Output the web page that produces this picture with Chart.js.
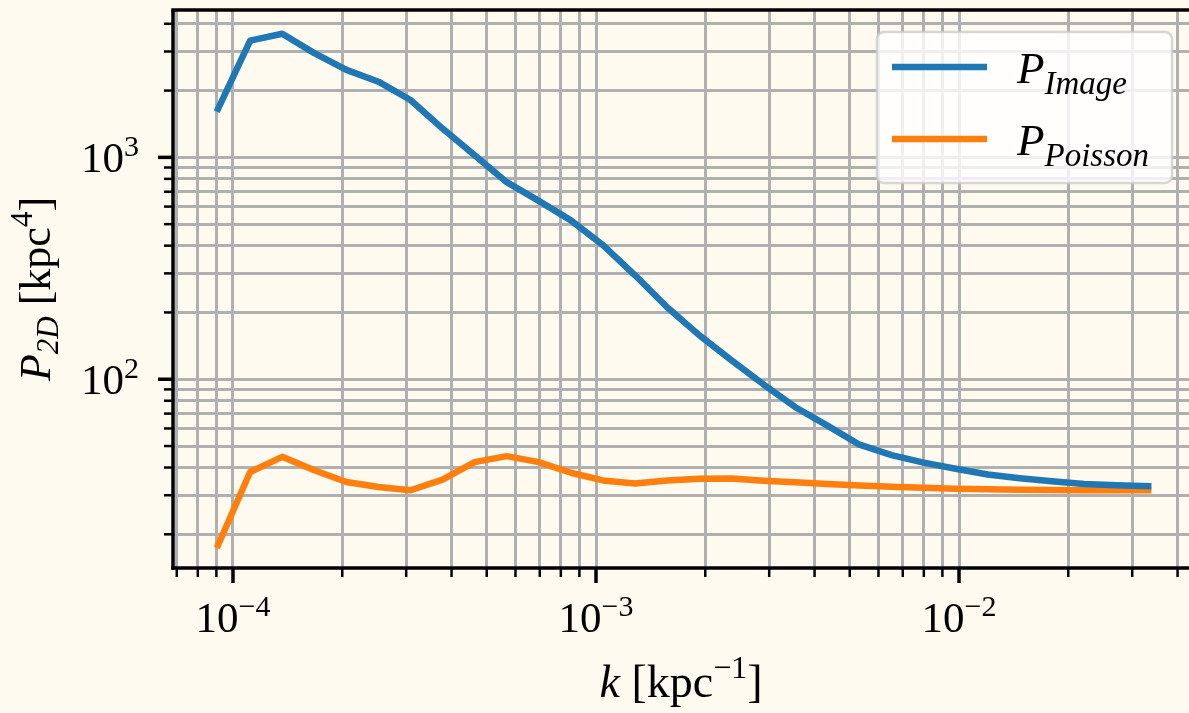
<!DOCTYPE html>
<html>
<head>
<meta charset="utf-8">
<script src="https://cdn.jsdelivr.net/npm/chart.js@4/dist/chart.umd.min.js"></script>
<style>
  html, body { margin: 0; padding: 0; background: #fffaf0; }
  #wrap { width: 1189px; height: 713px; position: relative; overflow: hidden; }
</style>
</head>
<body>
<div id="wrap"><canvas id="spectrumChart"></canvas></div>
<script>
// k [kpc^-1] bin centres
const kValues = [9.10e-5, 1.115e-4, 1.367e-4, 1.675e-4, 2.053e-4, 2.516e-4, 3.083e-4, 3.779e-4,
    4.631e-4, 5.676e-4, 6.956e-4, 8.526e-4, 1.045e-3, 1.281e-3, 1.570e-3, 1.924e-3, 2.358e-3,
    2.890e-3, 3.542e-3, 4.341e-3, 5.320e-3, 6.520e-3, 7.991e-3, 9.794e-3, 1.200e-2, 1.471e-2,
    1.803e-2, 2.210e-2, 2.709e-2, 3.320e-2];
const pImage = [1656, 3360, 3606, 2950, 2478, 2193, 1813, 1348, 1021, 773, 637, 520, 402, 294,
    211, 158, 122, 94.9, 74.8, 61.8, 50.7, 45.5, 42.1, 39.5, 37.2, 35.8, 34.7, 33.7, 33.3, 33.0];
const pPoisson = [17.9, 38.2, 44.7, 38.9, 34.4, 32.7, 31.6, 35.3, 42.3, 45.0, 42.3, 37.9, 35.0,
    33.9, 35.0, 35.6, 35.7, 34.9, 34.3, 33.7, 33.2, 32.8, 32.4, 32.1, 31.9, 31.8, 31.7, 31.6, 31.6, 31.6];
const seriesNames = ['Image', 'Poisson'];
const seriesColors = ['#1f77b4', '#ff7f0e'];

// axis ticks
const xMajorTicks = [1e-4, 1e-3, 1e-2];
const xTickExponents = ['\u22124', '\u22123', '\u22122'];
const yMajorTicks = [1e2, 1e3];
const yTickExponents = ['2', '3'];
const xRange = [6.835e-5, 4.301e-2];
const yRange = [14.1, 4615];

function minorTicks(decades) {
    const out = [];
    decades.forEach(d => {
        for (let m = 1; m <= 9; m++) out.push(m * d);
    });
    return out;
}
const xAllTicks = minorTicks([1e-5, 1e-4, 1e-3, 1e-2]).filter(v => v >= xRange[0] && v <= xRange[1]);
const yAllTicks = minorTicks([1e1, 1e2, 1e3]).filter(v => v >= yRange[0] && v <= yRange[1]);

const FONT = "'Liberation Serif', 'DejaVu Serif', serif";
const BIG = 43, SMALL = 30;

// runs: [text, size, italic, dy]
function drawRuns(ctx, runs, x, y, align) {
    let w = 0;
    runs.forEach(r => {
        ctx.font = (r[2] ? 'italic ' : '') + r[1] + 'px ' + FONT;
        w += ctx.measureText(r[0]).width;
    });
    let cx = align === 'center' ? x - w / 2 : (align === 'right' ? x - w : x);
    ctx.textAlign = 'left';
    ctx.textBaseline = 'alphabetic';
    ctx.fillStyle = '#000';
    runs.forEach(r => {
        ctx.font = (r[2] ? 'italic ' : '') + r[1] + 'px ' + FONT;
        ctx.fillText(r[0], cx, y + r[3]);
        cx += ctx.measureText(r[0]).width;
    });
}

function line(ctx, x1, y1, x2, y2) {
    ctx.beginPath();
    ctx.moveTo(x1, y1);
    ctx.lineTo(x2, y2);
    ctx.stroke();
}

const decorPlugin = {
    id: 'decor',
    afterDraw(chart) {
        const { ctx, chartArea: a, scales: { x, y } } = chart;
        ctx.save();
        ctx.strokeStyle = '#000';
        ctx.lineCap = 'butt';

        // tick marks
        xAllTicks.forEach(v => {
            const px = x.getPixelForValue(v);
            const major = xMajorTicks.includes(v);
            ctx.lineWidth = major ? 3.5 : 2.5;
            line(ctx, px, a.bottom, px, a.bottom + (major ? 15 : 9));
        });
        yAllTicks.forEach(v => {
            const py = y.getPixelForValue(v);
            const major = yMajorTicks.includes(v);
            ctx.lineWidth = major ? 3.5 : 2.5;
            line(ctx, a.left, py, a.left - (major ? 15 : 9), py);
        });

        // spines
        ctx.lineWidth = 3.5;
        line(ctx, a.left, a.top, a.left, a.bottom + 1.75);
        line(ctx, a.left - 1.75, a.bottom, a.right, a.bottom);
        line(ctx, a.left - 1.75, a.top, a.right, a.top);

        // tick labels
        xMajorTicks.forEach((v, i) => {
            drawRuns(ctx, [['10', BIG, false, 0], [xTickExponents[i], SMALL, false, -16]],
                x.getPixelForValue(v), a.bottom + 64, 'center');
        });
        yMajorTicks.forEach((v, i) => {
            drawRuns(ctx, [['10', BIG, false, 0], [yTickExponents[i], SMALL, false, -16]],
                a.left - 34, y.getPixelForValue(v) + 15, 'right');
        });

        // axis titles
        drawRuns(ctx, [['k', 46, true, 0], [' [kpc', 46, false, 0], ['\u22121', 32, false, -19],
            [']', 46, false, 0]], (a.left + 1189) / 2, 697, 'center');
        ctx.save();
        ctx.translate(50, (a.top + a.bottom) / 2);
        ctx.rotate(-Math.PI / 2);
        drawRuns(ctx, [['P', 44, true, 0], ['2D', 31, true, 8], [' [kpc', 44, false, 0],
            ['4', 31, false, -18], [']', 44, false, 0]], 0, 0, 'center');
        ctx.restore();

        // legend
        const lx = 877, ly = 32, lw = 295, lh = 151;
        ctx.beginPath();
        ctx.roundRect(lx, ly, lw, lh, 7);
        ctx.fillStyle = 'rgba(255,255,255,0.8)';
        ctx.fill();
        ctx.lineWidth = 2.5;
        ctx.strokeStyle = 'rgba(204,204,204,0.8)';
        ctx.stroke();
        seriesNames.forEach((name, i) => {
            const rowY = 67 + i * 72;
            ctx.strokeStyle = seriesColors[i];
            ctx.lineWidth = 6.5;
            line(ctx, 892, rowY, 987, rowY);
            drawRuns(ctx, [['P', 45, true, 0], [name, 33, true, 11]], 1017, rowY + 16, 'left');
        });
        ctx.restore();
    }
};

const ctx = document.getElementById('spectrumChart').getContext('2d');
const config = {
    type: 'line',
    data: {
        datasets: [
            {
                label: 'P_Image',
                data: kValues.map((k, i) => ({ x: k, y: pImage[i] })),
                borderColor: seriesColors[0],
                borderWidth: 6.5,
                pointRadius: 0,
                tension: 0,
                borderJoinStyle: 'round',
                borderCapStyle: 'square'
            },
            {
                label: 'P_Poisson',
                data: kValues.map((k, i) => ({ x: k, y: pPoisson[i] })),
                borderColor: seriesColors[1],
                borderWidth: 6.5,
                pointRadius: 0,
                tension: 0,
                borderJoinStyle: 'round',
                borderCapStyle: 'square'
            }
        ]
    },
    options: {
        responsive: true,
        maintainAspectRatio: false,
        animation: false,
        devicePixelRatio: 1,
        layout: { padding: { left: 173, top: 10, right: 0, bottom: 145 } },
        scales: {
            x: {
                type: 'logarithmic',
                min: xRange[0],
                max: xRange[1],
                ticks: { display: false },
                grid: { color: '#b0b0b0', lineWidth: 3, drawTicks: false },
                border: { display: false },
                afterBuildTicks: s => { s.ticks = xAllTicks.map(v => ({ value: v })); }
            },
            y: {
                type: 'logarithmic',
                min: yRange[0],
                max: yRange[1],
                ticks: { display: false },
                grid: { color: '#b0b0b0', lineWidth: 3, drawTicks: false },
                border: { display: false },
                afterBuildTicks: s => { s.ticks = yAllTicks.map(v => ({ value: v })); }
            }
        },
        plugins: {
            legend: { display: false },
            tooltip: { enabled: false }
        }
    },
    plugins: [decorPlugin]
};
const spectrumChart = new Chart(ctx, config);
</script>
</body>
</html>
